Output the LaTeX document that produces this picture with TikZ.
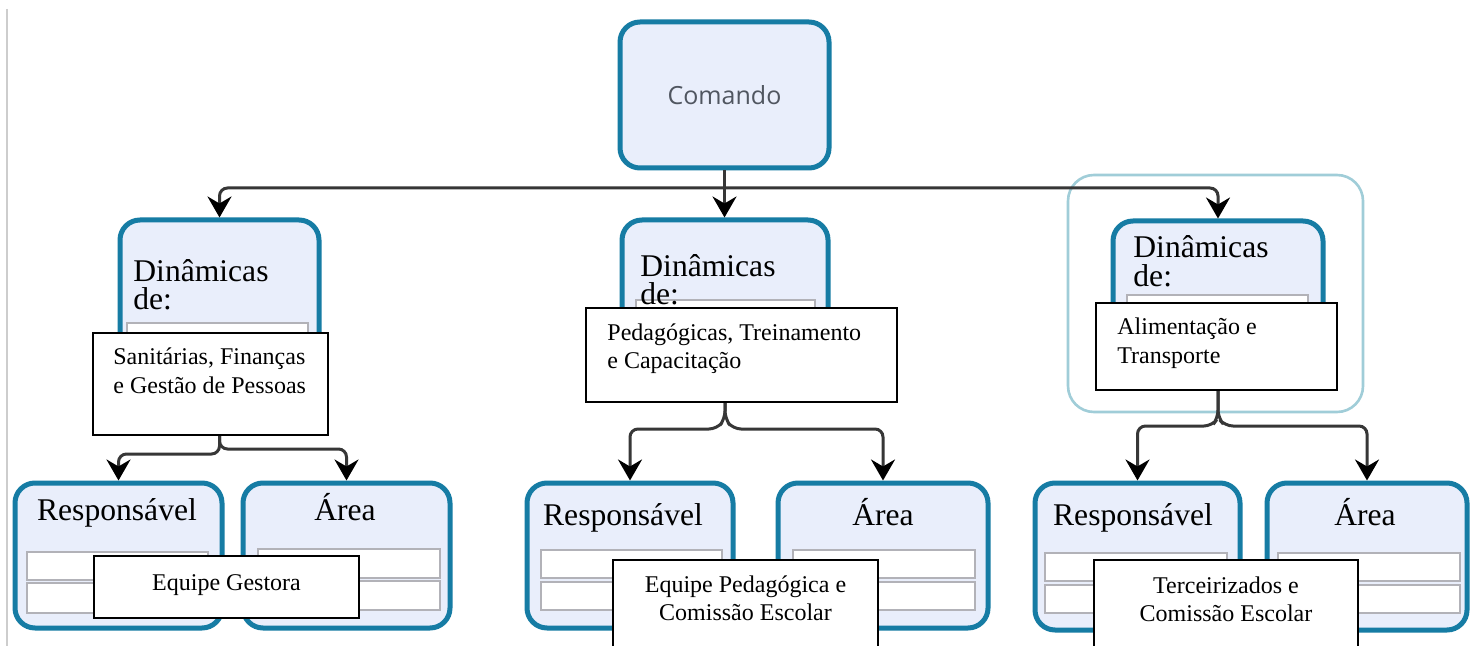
\documentclass[tikz,border=0pt]{standalone}
\usepackage{fontspec}
\setmainfont{Liberation Serif}
\newfontfamily\uifont{Open Sans}
\usetikzlibrary{arrows.meta,fit}
\definecolor{tealb}{RGB}{22,124,164}
\definecolor{lav}{RGB}{233,238,251}
\definecolor{rowgray}{RGB}{178,178,184}
\definecolor{hilite}{RGB}{160,205,216}
\definecolor{connc}{RGB}{55,55,55}
\definecolor{edgegray}{RGB}{205,205,205}
\definecolor{cmdtext}{RGB}{80,86,96}
\tikzset{
  tealbox/.style={draw=tealb, line width=2.5pt, fill=lav, rounded corners=10pt, inner sep=0pt},
  rowbox/.style={draw=rowgray, line width=1.3pt, fill=white, inner sep=0pt},
  textbox/.style={draw=black, line width=1pt, fill=white, inner sep=0pt},
  bigtext/.style={font=\fontsize{15.8}{14}\selectfont, inner sep=0pt},
  smalltext/.style={font=\fontsize{12}{14}\selectfont, inner sep=0pt},
  connector/.style={draw=connc, line width=1.5pt, rounded corners=4pt,
    -{Stealth[length=10.5pt,width=12pt,inset=3.5pt,color=black]}},
}
\begin{document}
\begin{tikzpicture}[x=0.5pt,y=-0.5pt]
\path[use as bounding box, fill=white] (0,0) rectangle (1470,646);
\draw[edgegray, line width=1pt] (7,9) -- (7,646);

% highlight frame
\node[draw=hilite, line width=1.3pt, rounded corners=13pt, inner sep=0pt, fit={(1068,175)(1363,412)}] (hl) {};

% top node
\node[tealbox, fit={(620,22)(829,168)}] (cmd) {};
\node[font=\uifont\fontsize{12.5}{14}\selectfont, text=cmdtext, inner sep=0pt] (cmdt) at (cmd.center) {Comando};

% Dinamicas boxes
\node[tealbox, fit={(120,220)(319,425)}] (dl) {};
\node[tealbox, fit={(622,220)(828,395)}] (dm) {};
\node[tealbox, fit={(1113,221)(1323,380)}] (dr) {};
\node[rowbox, fit={(127,323)(308,415)}] (dlr) {};
\node[rowbox, fit={(636,300)(815,388)}] (dmr) {};
\node[rowbox, fit={(1127,295)(1308,372)}] (drr) {};
\node[bigtext, anchor=base west, align=left] (dlt) at (133,310) {Dinâmicas\\de:};
\node[bigtext, anchor=base west, align=left] (dmt) at (640,305) {Dinâmicas\\de:};
\node[bigtext, anchor=base west, align=left] (drt) at (1133,286) {Dinâmicas\\de:};

% white text boxes over Dinamicas
\node[textbox, fit={(93,333)(328,435)}] (tl) {};
\node[smalltext, anchor=base west, align=left] (tlt) at (113,393) {Sanitárias, Finanças\\e Gestão de Pessoas};
\node[textbox, fit={(586,308)(897,402)}] (tm) {};
\node[smalltext, anchor=base west, align=left] (tmt) at (607,368) {Pedagógicas, Treinamento\\e Capacitação};
\node[textbox, fit={(1096,303)(1337,390)}] (tr) {};
\node[smalltext, anchor=base west, align=left] (trt) at (1117,363) {Alimentação e\\Transporte};

% bottom boxes
\node[tealbox, fit={(15,483)(222,628)}] (lr) {};
\node[tealbox, fit={(243,483)(450,628)}] (la) {};
\node[tealbox, fit={(527,483)(733,628)}] (mr) {};
\node[tealbox, fit={(778,483)(988,628)}] (ma) {};
\node[tealbox, fit={(1035,483)(1240,630)}] (rr) {};
\node[tealbox, fit={(1267,483)(1467,630)}] (ra) {};

\node[bigtext, anchor=base] (lrt) at (117,520) {Responsável};
\node[bigtext, anchor=base] (lat) at (345,520) {Área};
\node[bigtext, anchor=base] (mrt) at (623,525) {Responsável};
\node[bigtext, anchor=base] (mat) at (883,525) {Área};
\node[bigtext, anchor=base] (rrt) at (1133,525) {Responsável};
\node[bigtext, anchor=base] (rat) at (1365,525) {Área};

% rows
\node[rowbox, fit={(27,552)(208,580)}] (lr1) {};
\node[rowbox, fit={(27,583)(208,613)}] (lr2) {};
\node[rowbox, fit={(258,549)(440,578)}] (la1) {};
\node[rowbox, fit={(258,581)(440,610)}] (la2) {};
\node[rowbox, fit={(541,550)(722,578)}] (mr1) {};
\node[rowbox, fit={(541,582)(722,610)}] (mr2) {};
\node[rowbox, fit={(793,550)(975,578)}] (ma1) {};
\node[rowbox, fit={(793,582)(975,610)}] (ma2) {};
\node[rowbox, fit={(1045,553)(1227,581)}] (rr1) {};
\node[rowbox, fit={(1045,585)(1227,613)}] (rr2) {};
\node[rowbox, fit={(1278,553)(1460,581)}] (ra1) {};
\node[rowbox, fit={(1278,585)(1460,613)}] (ra2) {};

% bottom text boxes
\node[textbox, fit={(94,556)(359,618)}] (bl) {};
\node[smalltext, anchor=base] (blt) at (226.5,590) {Equipe Gestora};
\node[textbox, fit={(613,560)(878,670)}] (bm) {};
\node[smalltext, anchor=base, align=center] (bmt) at (745.5,620) {Equipe Pedagógica e\\Comissão Escolar};
\node[textbox, fit={(1094,560)(1358,670)}] (br) {};
\node[smalltext, anchor=base, align=center] (brt) at (1226,621) {Terceirizados e\\Comissão Escolar};

% connectors from top
\coordinate (j0) at (724.5,188);
\draw[connector] (cmd.south) -- (cmd.south |- dm.north);
\draw[connector] (j0) -| (dl.north);
\draw[connector] (j0) -| (dr.north);

% left group
\draw[connector] (tl.south -| dl.south) -- ++(0,18) -| (lr.north);
\draw[connector] (tl.south -| dl.south) -- ++(0,13) -| (la.north);
% middle group
\draw[connector] (tm.south -| dm.south) -- ++(0,16) -- ++(-8,10) -| (mr.north);
\draw[connector] (tm.south -| dm.south) -- ++(0,16) -- ++(8,10) -| (ma.north);
% right group
\draw[connector] (tr.south -| dr.south) -- ++(0,27) -- ++(-6,8) -| (rr.north);
\draw[connector] (tr.south -| dr.south) -- ++(0,27) -- ++(7,8) -| (ra.north);
\end{tikzpicture}
\end{document}
